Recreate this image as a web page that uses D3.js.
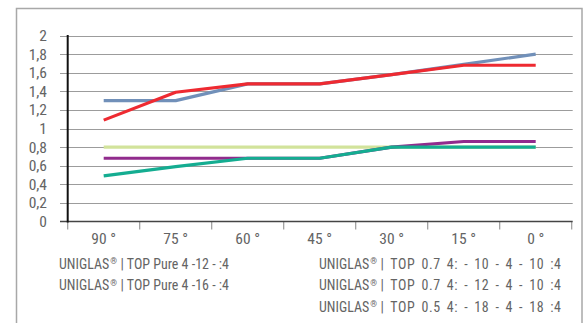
<!DOCTYPE html>
<html>
<head>
<meta charset="utf-8">
<script src="https://cdn.jsdelivr.net/npm/d3@7"></script>
<style>
  html, body { margin: 0; padding: 0; background: #fff; }
  svg { display: block; }
  text { font-family: "Liberation Sans Narrow", "Roboto Condensed", "Arial Narrow", "Liberation Sans", sans-serif; fill: #646464; }
</style>
</head>
<body>
<svg id="chart" width="586" height="323"></svg>
<script>
// ---- data ----
const categories = ["90 °", "75 °", "60 °", "45 °", "30 °", "15 °", "0 °"];
const yTicks = [0, 0.2, 0.4, 0.6, 0.8, 1, 1.2, 1.4, 1.6, 1.8, 2];
const yTickLabels = ["0", "0,2", "0,4", "0,6", "0,8", "1", "1,2", "1,4", "1,6", "1,8", "2"];

const brand = "UNIGLAS";
const seriesNames = [
  "| TOP Pure 4 -12 - :4",
  "| TOP Pure 4 -16 - :4",
  "| TOP 0.7 4: - 10 - 4 - 10 :4",
  "| TOP 0.7 4: - 12 - 4 - 10 :4",
  "| TOP 0.5 4: - 18 - 4 - 18 :4"
];
const pure12 = [1.3, 1.3, 1.48, 1.48, 1.58, 1.69, 1.8];
const pure16 = [1.09, 1.39, 1.48, 1.48, 1.58, 1.68, 1.68];
const top07a = [0.8, 0.8, 0.8, 0.8, 0.8, 0.8, 0.8];
const top07b = [0.68, 0.68, 0.68, 0.68, 0.8, 0.86, 0.86];
const top05 = [0.49, 0.59, 0.68, 0.68, 0.8, 0.8, 0.8];
const seriesValues = [pure12, pure16, top07a, top07b, top05];
const seriesColors = ["#7190b9", "#ee2a31", "#d2e39b", "#912b8d", "#14ad91"];

// ---- layout ----
const svg = d3.select("#chart");
const x0 = 67.7, x1 = 571.7;
const yBottom = 221.5, yTop = 35.5;

const x = d3.scaleBand().domain(categories).range([x0, x1]).paddingInner(0).paddingOuter(0);
const y = d3.scaleLinear().domain([0, 2]).range([yBottom, yTop]);

// frame
svg.append("rect")
  .attr("x", 16.5).attr("y", 8.5).attr("width", 565.5).attr("height", 340)
  .attr("fill", "none").attr("stroke", "#a8a8a8").attr("stroke-width", 1.5);

// gridlines + left tick stubs
svg.append("g").selectAll("line").data(yTicks.slice(1)).join("line")
  .attr("x1", 60).attr("x2", x1 + 1)
  .attr("y1", d => Math.round(y(d)) + 0.5).attr("y2", d => Math.round(y(d)) + 0.5)
  .attr("stroke", "#9c9c9c").attr("stroke-width", 1.2);

// y labels
svg.append("g").selectAll("text").data(yTicks).join("text")
  .attr("x", 47).attr("y", d => y(d) + 5.5)
  .attr("text-anchor", "end")
  .attr("font-size", 15.5)
  .text((d, i) => yTickLabels[i]);

// x axis ticks at band boundaries
const bounds = categories.map(c => x(c)).concat([x1]);
svg.append("g").selectAll("line").data(bounds).join("line")
  .attr("x1", d => d).attr("x2", d => d)
  .attr("y1", yBottom).attr("y2", yBottom + 8)
  .attr("stroke", "#9a9a9a").attr("stroke-width", 1.2);

// x axis line
svg.append("line")
  .attr("x1", 60).attr("x2", x1 + 1)
  .attr("y1", yBottom).attr("y2", yBottom)
  .attr("stroke", "#444").attr("stroke-width", 1.6);

// y axis line
svg.append("line")
  .attr("x1", x0).attr("x2", x0)
  .attr("y1", yTop - 0.5).attr("y2", yBottom + 1)
  .attr("stroke", "#111").attr("stroke-width", 2);

// x labels
svg.append("g").selectAll("text").data(categories).join("text")
  .attr("x", d => x(d) + x.bandwidth() / 2)
  .attr("y", 244)
  .attr("text-anchor", "middle")
  .attr("font-size", 15.5)
  .text(d => d);

// lines
const line = d3.line()
  .x((d, i) => x(categories[i]) + x.bandwidth() / 2)
  .y(d => y(d));
svg.append("g").selectAll("path").data(seriesValues).join("path")
  .attr("d", d => line(d))
  .attr("fill", "none")
  .attr("stroke", (d, i) => seriesColors[i])
  .attr("stroke-width", 3.2)
  .attr("stroke-linejoin", "round");

// legend (text only)
const legendPos = [
  {x: 59, y: 268.5, end: 229},
  {x: 59, y: 290, end: 229},
  {x: 319, y: 268.5, end: 561},
  {x: 319, y: 290, end: 561},
  {x: 319, y: 311.5, end: 561}
];
const fs = 15.5;
const lg = svg.append("g");

function buildEntry(i, sx, fill) {
  const p = legendPos[i], name = seriesNames[i];
  const g = lg.append("g").attr("transform", `translate(${p.x},${p.y}) scale(${sx},1)`);
  const t1 = g.append("text").attr("x", 0).attr("y", 0).attr("font-size", fs).text(brand);
  const bw = t1.node().getComputedTextLength();
  const t2 = g.append("text").attr("x", bw + 1).attr("y", -4.5).attr("font-size", 9.5).text("®");
  const rw = t2.node().getComputedTextLength();
  const start = bw + 1 + rw + 4;
  const t3 = g.append("text").attr("x", start).attr("y", 0).attr("font-size", fs).text(name);
  const nw = t3.node().getComputedTextLength();
  if (fill) {
    const excess = (p.end - p.x) / sx - start - nw;
    const spaces = (name.match(/ /g) || []).length;
    const chars = name.length - 1;
    const ls = excess > 0 ? 0.45 * excess / chars : 0;
    const ws = (excess - ls * chars) / spaces;
    t3.attr("letter-spacing", ls).attr("word-spacing", ws);
  }
  return {g, total: start + nw};
}

// determine horizontal scale from the first entry so it spans like the reference
const probe = buildEntry(0, 1, false);
const sx = Math.max(0.8, Math.min(1.3, (legendPos[0].end - legendPos[0].x) / probe.total));
probe.g.remove();
seriesNames.forEach((n, i) => buildEntry(i, sx, true));
</script>
</body>
</html>
